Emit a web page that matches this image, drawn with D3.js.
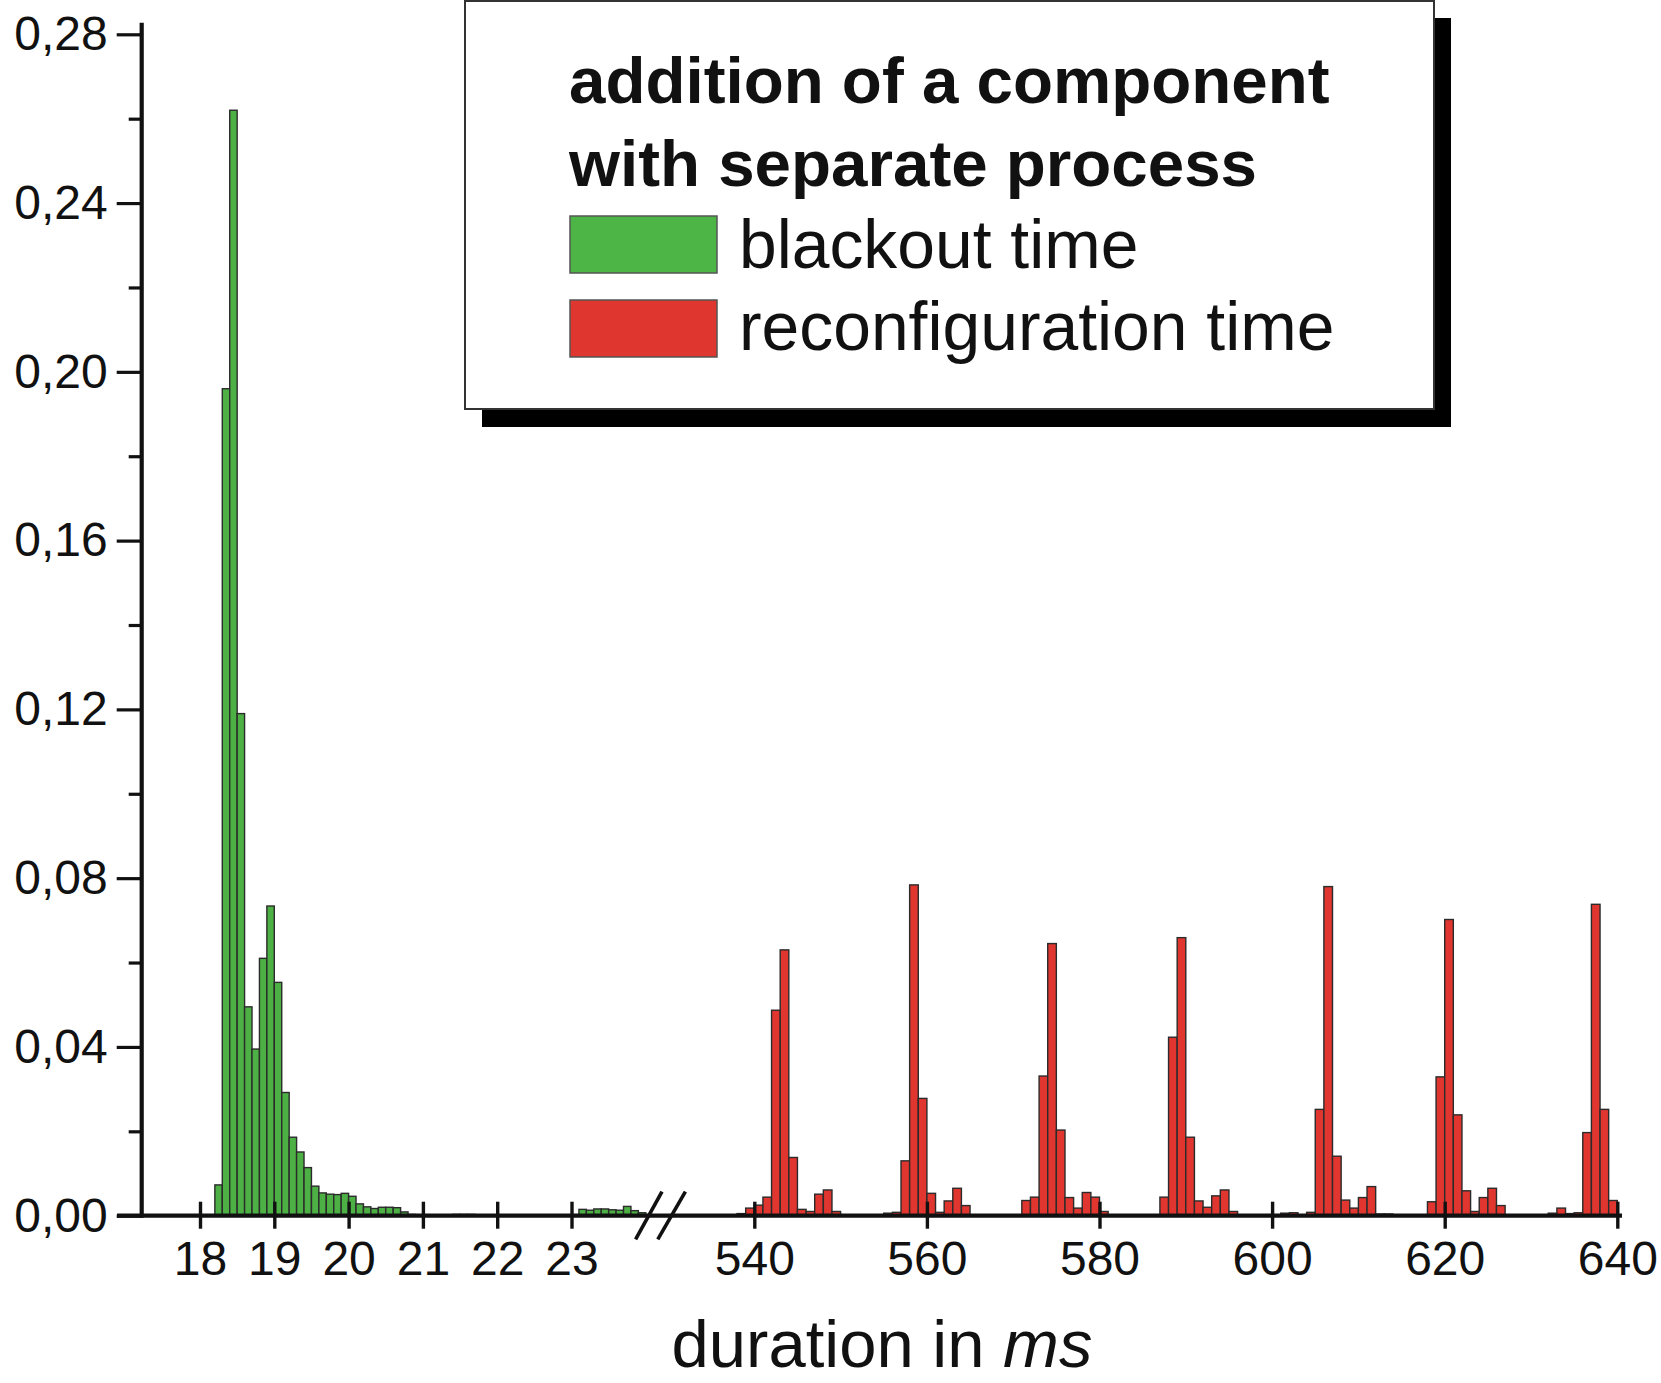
<!DOCTYPE html>
<html>
<head>
<meta charset="utf-8">
<script src="https://cdn.jsdelivr.net/npm/d3@7"></script>
<style>
  html, body { margin: 0; padding: 0; background: #fff; }
  svg { display: block; }
  text { font-family: "Liberation Sans", Arial, Helvetica, sans-serif; fill: #111; }
</style>
</head>
<body>
<svg id="chart" width="1661" height="1383"></svg>
<script>
// ---------- DATA ----------
const greenBins = [18.2,18.3,18.4,18.5,18.6,18.7,18.8,18.9,19.0,19.1,19.2,19.3,19.4,19.5,19.6,19.7,19.8,19.9,
  20.0,20.1,20.2,20.3,20.4,20.5,20.6,20.7,20.8,20.9,21.0,21.4,21.5,21.6,21.7,
  23.1,23.2,23.3,23.4,23.5,23.6,23.7,23.8,23.9];
const greenValues = [0.0073,0.196,0.262,0.119,0.0495,0.0395,0.061,0.0734,0.0553,0.0292,0.0186,0.0151,0.0114,0.0070,0.0054,0.0051,0.0050,0.0053,
  0.0046,0.0028,0.0021,0.0017,0.0020,0.0020,0.0019,0.0009,0.0003,0.0002,0.0001,0.0003,0.0003,0.0003,0.0002,
  0.0015,0.0013,0.0016,0.0016,0.0014,0.0013,0.0022,0.0012,0.0007];
const greenBinWidth = 0.1;

const redBins = [538,539,540,541,542,543,544,545,546,547,548,549,
  555,556,557,558,559,560,561,562,563,564,
  571,572,573,574,575,576,577,578,579,580,
  587,588,589,590,591,592,593,594,595,
  601,602,604,605,606,607,608,609,610,611,612,613,
  618,619,620,621,622,623,624,625,626,
  632,633,634,635,636,637,638,639];
const redValues = [0.0005,0.0018,0.0025,0.0044,0.0487,0.0630,0.0138,0.0015,0.0010,0.0051,0.0061,0.0010,
  0.0006,0.0008,0.0130,0.0784,0.0278,0.0053,0.0008,0.0035,0.0065,0.0024,
  0.0036,0.0044,0.0331,0.0645,0.0203,0.0043,0.0018,0.0055,0.0044,0.0010,
  0.0044,0.0423,0.0659,0.0186,0.0035,0.0020,0.0047,0.0061,0.0010,
  0.0006,0.0007,0.0008,0.0252,0.0780,0.0141,0.0037,0.0018,0.0043,0.0069,0.0004,0.0004,
  0.0033,0.0329,0.0702,0.0239,0.0059,0.0010,0.0043,0.0065,0.0024,
  0.0006,0.0018,0.0005,0.0007,0.0197,0.0738,0.0252,0.0036];
const redBinWidth = 1;

const yTicks = [0, 0.04, 0.08, 0.12, 0.16, 0.20, 0.24, 0.28];
const yMinorTicks = [0.02, 0.06, 0.10, 0.14, 0.18, 0.22, 0.26];
const greenTicks = [18, 19, 20, 21, 22, 23];
const redTicks = [540, 560, 580, 600, 620, 640];

const legendTitle = ["addition of a component", "with separate process"];
const legendItems = [
  { label: "blackout time", color: "#4db446" },
  { label: "reconfiguration time", color: "#df3630" }
];
const xTitle = "duration in ";
const xTitleUnit = "ms";

// ---------- LAYOUT ----------
const svg = d3.select("#chart");
svg.append("rect").attr("width", 1661).attr("height", 1383).attr("fill", "#fff");

const y0 = 1215.7, yTop = 34.3, axisX = 141.7;
const y = d3.scaleLinear().domain([0, 0.28]).range([y0, yTop]);
const xG = d3.scaleLinear().domain([18, 23]).range([200, 571.5]);
const xR = d3.scaleLinear().domain([540, 640]).range([754.3, 1617.3]);

const GREEN = "#4cb044", RED = "#e0362f", EDGE = "#2b2b2b";
const TICK_FONT = 48;

// bars
const g = svg.append("g");
g.selectAll("rect.green").data(greenBins.map((b, i) => ({ b, v: greenValues[i] })))
  .enter().append("rect").attr("class", "green")
  .attr("x", d => xG(d.b))
  .attr("width", d => xG(d.b + greenBinWidth) - xG(d.b))
  .attr("y", d => y(d.v))
  .attr("height", d => y(0) - y(d.v))
  .attr("fill", GREEN).attr("stroke", EDGE).attr("stroke-width", 1.4);

g.selectAll("rect.red").data(redBins.map((b, i) => ({ b, v: redValues[i] })))
  .enter().append("rect").attr("class", "red")
  .attr("x", d => xR(d.b))
  .attr("width", d => xR(d.b + redBinWidth) - xR(d.b))
  .attr("y", d => y(d.v))
  .attr("height", d => y(0) - y(d.v))
  .attr("fill", RED).attr("stroke", EDGE).attr("stroke-width", 1.4);

// y axis
const locale = d3.formatLocale({ decimal: ",", thousands: ".", grouping: [3], currency: ["", ""] });
const fmt = locale.format(".2f");
const yAxis = d3.axisLeft(y).tickValues(yTicks).tickFormat(fmt).tickSize(25).tickPadding(9);
const ya = svg.append("g").attr("transform", `translate(${axisX},0)`).call(yAxis);
ya.select(".domain").remove();
ya.selectAll(".tick line").attr("stroke", "#111").attr("stroke-width", 3.2);
ya.selectAll(".tick text").attr("font-size", TICK_FONT).attr("fill", "#111")
  .attr("font-family", "Liberation Sans, Arial, sans-serif");
const yMinor = d3.axisLeft(y).tickValues(yMinorTicks).tickFormat("").tickSize(13);
const ym = svg.append("g").attr("transform", `translate(${axisX},0)`).call(yMinor);
ym.select(".domain").remove();
ym.selectAll(".tick line").attr("stroke", "#111").attr("stroke-width", 3.2);

// x axes
function xAxisGroup(scale, ticks) {
  const ax = d3.axisBottom(scale).tickValues(ticks).tickFormat(d3.format("d")).tickSize(27);
  const sel = svg.append("g").attr("transform", `translate(0,${y0})`).call(ax);
  sel.select(".domain").remove();
  sel.selectAll(".tick line").attr("y1", -14).attr("y2", 13).attr("stroke", "#111").attr("stroke-width", 3.4);
  sel.selectAll(".tick text").attr("y", 59).attr("dy", 0).attr("font-size", TICK_FONT).attr("fill", "#111")
    .attr("font-family", "Liberation Sans, Arial, sans-serif");
  return sel;
}

// axis lines
svg.append("line").attr("x1", axisX).attr("x2", axisX).attr("y1", 22.7).attr("y2", y0 + 2)
  .attr("stroke", "#111").attr("stroke-width", 4.2);
svg.append("line").attr("x1", 117).attr("x2", 1622).attr("y1", y0).attr("y2", y0)
  .attr("stroke", "#111").attr("stroke-width", 4.2);

xAxisGroup(xG, greenTicks);
xAxisGroup(xR, redTicks);

// axis break marks
const brk = svg.append("g").attr("stroke", "#111").attr("stroke-width", 3.6).attr("stroke-linecap", "butt");
[[635.6, 662.0], [657.8, 685.4]].forEach(([a, b]) => {
  brk.append("line").attr("x1", a).attr("y1", 1239.4).attr("x2", b).attr("y2", 1191.7);
});

// x title
const xt = svg.append("text").attr("x", 882).attr("y", 1367).attr("text-anchor", "middle")
  .attr("font-size", 67).attr("fill", "#111");
xt.append("tspan").text(xTitle);
xt.append("tspan").attr("font-style", "italic").text(xTitleUnit);

// legend
const lg = svg.append("g");
lg.append("rect").attr("x", 482).attr("y", 18).attr("width", 969).attr("height", 409).attr("fill", "#000");
lg.append("rect").attr("x", 465).attr("y", 1).attr("width", 969).attr("height", 408)
  .attr("fill", "#fff").attr("stroke", "#333").attr("stroke-width", 2);
legendTitle.forEach((t, i) => {
  lg.append("text").attr("x", 569).attr("y", 103 + i * 82.5).attr("font-size", 65.5)
    .attr("font-weight", "bold").attr("fill", "#111").text(t);
});
legendItems.forEach((it, i) => {
  lg.append("rect").attr("x", 570).attr("y", 216 + i * 84).attr("width", 147).attr("height", 57)
    .attr("fill", it.color).attr("stroke", "#555").attr("stroke-width", 1.5);
  lg.append("text").attr("x", 739).attr("y", 268 + i * 82).attr("font-size", 67.8)
    .attr("fill", "#111").text(it.label);
});
</script>
</body>
</html>
